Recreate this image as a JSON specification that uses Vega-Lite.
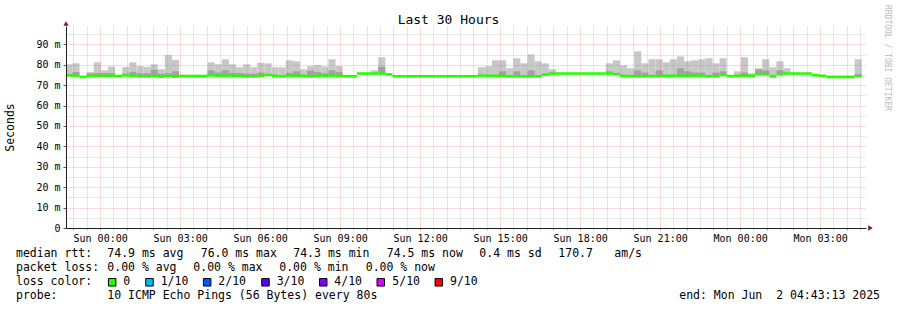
{
  "$schema": "https://vega.github.io/schema/vega-lite/v6.json",
  "autosize": {"type": "none"},
  "width": 800,
  "height": 202,
  "padding": {"left": 66, "top": 26, "right": 31, "bottom": 82},
  "background": "#ffffff",
  "view": {"stroke": null},
  "datasets": {
    "bins": [
      {"t0": "2025-05-31T22:41:40Z", "t1": "2025-05-31T22:57:40Z", "med": 74.8, "hi": 80.2, "dk": null},
      {"t0": "2025-05-31T22:57:40Z", "t1": "2025-05-31T23:13:40Z", "med": 74.6, "hi": 80.7, "dk": 76.5},
      {"t0": "2025-05-31T23:13:40Z", "t1": "2025-05-31T23:29:40Z", "med": 74.0, "hi": null, "dk": null},
      {"t0": "2025-05-31T23:29:40Z", "t1": "2025-05-31T23:45:40Z", "med": 74.6, "hi": 76.4, "dk": 75.8},
      {"t0": "2025-05-31T23:45:40Z", "t1": "2025-06-01T00:01:40Z", "med": 74.6, "hi": 81.2, "dk": 75.9},
      {"t0": "2025-06-01T00:01:40Z", "t1": "2025-06-01T00:17:40Z", "med": 74.6, "hi": 77.3, "dk": 75.9},
      {"t0": "2025-06-01T00:17:40Z", "t1": "2025-06-01T00:33:40Z", "med": 74.6, "hi": 79.1, "dk": 75.9},
      {"t0": "2025-06-01T00:33:40Z", "t1": "2025-06-01T00:49:40Z", "med": 74.5, "hi": null, "dk": null},
      {"t0": "2025-06-01T00:49:40Z", "t1": "2025-06-01T01:05:40Z", "med": 74.8, "hi": 78.9, "dk": 75.6},
      {"t0": "2025-06-01T01:05:40Z", "t1": "2025-06-01T01:21:40Z", "med": 74.6, "hi": 81.2, "dk": 76.5},
      {"t0": "2025-06-01T01:21:40Z", "t1": "2025-06-01T01:37:40Z", "med": 74.3, "hi": 79.4, "dk": 75.8},
      {"t0": "2025-06-01T01:37:40Z", "t1": "2025-06-01T01:53:40Z", "med": 74.3, "hi": 79.0, "dk": 75.8},
      {"t0": "2025-06-01T01:53:40Z", "t1": "2025-06-01T02:09:40Z", "med": 74.6, "hi": 80.2, "dk": 77.5},
      {"t0": "2025-06-01T02:09:40Z", "t1": "2025-06-01T02:25:40Z", "med": 74.2, "hi": 77.8, "dk": 75.6},
      {"t0": "2025-06-01T02:25:40Z", "t1": "2025-06-01T02:41:40Z", "med": 74.6, "hi": 84.8, "dk": 75.8},
      {"t0": "2025-06-01T02:41:40Z", "t1": "2025-06-01T02:57:40Z", "med": 74.2, "hi": 82.4, "dk": 76.8},
      {"t0": "2025-06-01T02:57:40Z", "t1": "2025-06-01T04:01:40Z", "med": 74.5, "hi": null, "dk": null},
      {"t0": "2025-06-01T04:01:40Z", "t1": "2025-06-01T04:17:40Z", "med": 74.8, "hi": 81.2, "dk": 77.3},
      {"t0": "2025-06-01T04:17:40Z", "t1": "2025-06-01T04:33:40Z", "med": 74.6, "hi": 80.2, "dk": 76.2},
      {"t0": "2025-06-01T04:33:40Z", "t1": "2025-06-01T04:49:40Z", "med": 74.6, "hi": 82.7, "dk": 77.3},
      {"t0": "2025-06-01T04:49:40Z", "t1": "2025-06-01T05:05:40Z", "med": 74.6, "hi": 80.2, "dk": 76.0},
      {"t0": "2025-06-01T05:05:40Z", "t1": "2025-06-01T05:21:40Z", "med": 74.6, "hi": 78.8, "dk": 75.9},
      {"t0": "2025-06-01T05:21:40Z", "t1": "2025-06-01T05:37:40Z", "med": 74.3, "hi": 80.2, "dk": 75.7},
      {"t0": "2025-06-01T05:37:40Z", "t1": "2025-06-01T05:53:40Z", "med": 74.3, "hi": 78.8, "dk": 75.6},
      {"t0": "2025-06-01T05:53:40Z", "t1": "2025-06-01T06:09:40Z", "med": 74.6, "hi": 81.0, "dk": 76.2},
      {"t0": "2025-06-01T06:09:40Z", "t1": "2025-06-01T06:25:40Z", "med": 75.0, "hi": 80.7, "dk": 75.6},
      {"t0": "2025-06-01T06:25:40Z", "t1": "2025-06-01T06:41:40Z", "med": 74.6, "hi": 78.8, "dk": null},
      {"t0": "2025-06-01T06:41:40Z", "t1": "2025-06-01T06:57:40Z", "med": 74.3, "hi": 78.8, "dk": null},
      {"t0": "2025-06-01T06:57:40Z", "t1": "2025-06-01T07:13:40Z", "med": 74.6, "hi": 82.2, "dk": 76.0},
      {"t0": "2025-06-01T07:13:40Z", "t1": "2025-06-01T07:29:40Z", "med": 74.6, "hi": 81.7, "dk": 76.8},
      {"t0": "2025-06-01T07:29:40Z", "t1": "2025-06-01T07:45:40Z", "med": 74.6, "hi": 77.8, "dk": null},
      {"t0": "2025-06-01T07:45:40Z", "t1": "2025-06-01T08:01:40Z", "med": 74.3, "hi": 79.3, "dk": 77.1},
      {"t0": "2025-06-01T08:01:40Z", "t1": "2025-06-01T08:17:40Z", "med": 74.6, "hi": 79.9, "dk": 76.4},
      {"t0": "2025-06-01T08:17:40Z", "t1": "2025-06-01T08:33:40Z", "med": 74.6, "hi": 79.2, "dk": 75.8},
      {"t0": "2025-06-01T08:33:40Z", "t1": "2025-06-01T08:49:40Z", "med": 74.6, "hi": 82.7, "dk": 77.3},
      {"t0": "2025-06-01T08:49:40Z", "t1": "2025-06-01T09:05:40Z", "med": 74.6, "hi": 79.4, "dk": 76.4},
      {"t0": "2025-06-01T09:05:40Z", "t1": "2025-06-01T09:37:40Z", "med": 74.4, "hi": null, "dk": null},
      {"t0": "2025-06-01T09:37:40Z", "t1": "2025-06-01T10:09:40Z", "med": 75.7, "hi": null, "dk": null},
      {"t0": "2025-06-01T10:09:40Z", "t1": "2025-06-01T10:25:40Z", "med": 75.7, "hi": 77.3, "dk": null},
      {"t0": "2025-06-01T10:25:40Z", "t1": "2025-06-01T10:41:40Z", "med": 75.7, "hi": 83.7, "dk": 79.0},
      {"t0": "2025-06-01T10:41:40Z", "t1": "2025-06-01T10:57:40Z", "med": 75.3, "hi": null, "dk": null},
      {"t0": "2025-06-01T10:57:40Z", "t1": "2025-06-01T14:09:40Z", "med": 74.4, "hi": null, "dk": null},
      {"t0": "2025-06-01T14:09:40Z", "t1": "2025-06-01T14:25:40Z", "med": 74.7, "hi": 78.8, "dk": null},
      {"t0": "2025-06-01T14:25:40Z", "t1": "2025-06-01T14:41:40Z", "med": 74.6, "hi": 79.3, "dk": null},
      {"t0": "2025-06-01T14:41:40Z", "t1": "2025-06-01T14:57:40Z", "med": 74.6, "hi": 82.2, "dk": null},
      {"t0": "2025-06-01T14:57:40Z", "t1": "2025-06-01T15:13:40Z", "med": 74.6, "hi": 82.2, "dk": 76.8},
      {"t0": "2025-06-01T15:13:40Z", "t1": "2025-06-01T15:29:40Z", "med": 74.3, "hi": 78.3, "dk": null},
      {"t0": "2025-06-01T15:29:40Z", "t1": "2025-06-01T15:45:40Z", "med": 74.3, "hi": 83.2, "dk": 76.8},
      {"t0": "2025-06-01T15:45:40Z", "t1": "2025-06-01T16:01:40Z", "med": 74.3, "hi": 80.7, "dk": null},
      {"t0": "2025-06-01T16:01:40Z", "t1": "2025-06-01T16:17:40Z", "med": 74.3, "hi": 85.1, "dk": 77.3},
      {"t0": "2025-06-01T16:17:40Z", "t1": "2025-06-01T16:33:40Z", "med": 74.3, "hi": 81.7, "dk": null},
      {"t0": "2025-06-01T16:33:40Z", "t1": "2025-06-01T16:49:40Z", "med": 75.2, "hi": 80.7, "dk": null},
      {"t0": "2025-06-01T16:49:40Z", "t1": "2025-06-01T17:05:40Z", "med": 75.7, "hi": 77.8, "dk": null},
      {"t0": "2025-06-01T17:05:40Z", "t1": "2025-06-01T18:57:40Z", "med": 75.7, "hi": null, "dk": null},
      {"t0": "2025-06-01T18:57:40Z", "t1": "2025-06-01T19:13:40Z", "med": 75.7, "hi": 80.7, "dk": 76.8},
      {"t0": "2025-06-01T19:13:40Z", "t1": "2025-06-01T19:29:40Z", "med": 75.4, "hi": 82.2, "dk": null},
      {"t0": "2025-06-01T19:29:40Z", "t1": "2025-06-01T19:45:40Z", "med": 74.6, "hi": 79.7, "dk": null},
      {"t0": "2025-06-01T19:45:40Z", "t1": "2025-06-01T20:01:40Z", "med": 74.4, "hi": 78.3, "dk": null},
      {"t0": "2025-06-01T20:01:40Z", "t1": "2025-06-01T20:17:40Z", "med": 74.3, "hi": 86.6, "dk": 77.3},
      {"t0": "2025-06-01T20:17:40Z", "t1": "2025-06-01T20:33:40Z", "med": 74.4, "hi": 80.7, "dk": 76.2},
      {"t0": "2025-06-01T20:33:40Z", "t1": "2025-06-01T20:49:40Z", "med": 74.4, "hi": 82.7, "dk": null},
      {"t0": "2025-06-01T20:49:40Z", "t1": "2025-06-01T21:05:40Z", "med": 74.4, "hi": 82.7, "dk": 77.3},
      {"t0": "2025-06-01T21:05:40Z", "t1": "2025-06-01T21:21:40Z", "med": 74.6, "hi": 81.2, "dk": null},
      {"t0": "2025-06-01T21:21:40Z", "t1": "2025-06-01T21:37:40Z", "med": 74.6, "hi": 82.7, "dk": null},
      {"t0": "2025-06-01T21:37:40Z", "t1": "2025-06-01T21:53:40Z", "med": 74.6, "hi": 84.1, "dk": 78.3},
      {"t0": "2025-06-01T21:53:40Z", "t1": "2025-06-01T22:09:40Z", "med": 74.6, "hi": 81.7, "dk": 76.8},
      {"t0": "2025-06-01T22:09:40Z", "t1": "2025-06-01T22:25:40Z", "med": 74.6, "hi": 82.2, "dk": 76.2},
      {"t0": "2025-06-01T22:25:40Z", "t1": "2025-06-01T22:41:40Z", "med": 74.6, "hi": 82.7, "dk": 76.2},
      {"t0": "2025-06-01T22:41:40Z", "t1": "2025-06-01T22:57:40Z", "med": 74.3, "hi": 83.2, "dk": null},
      {"t0": "2025-06-01T22:57:40Z", "t1": "2025-06-01T23:13:40Z", "med": 74.3, "hi": 80.7, "dk": 76.2},
      {"t0": "2025-06-01T23:13:40Z", "t1": "2025-06-01T23:29:40Z", "med": 75.0, "hi": 83.2, "dk": 76.8},
      {"t0": "2025-06-01T23:29:40Z", "t1": "2025-06-01T23:45:40Z", "med": 74.4, "hi": null, "dk": null},
      {"t0": "2025-06-01T23:45:40Z", "t1": "2025-06-02T00:01:40Z", "med": 74.6, "hi": 76.8, "dk": null},
      {"t0": "2025-06-02T00:01:40Z", "t1": "2025-06-02T00:17:40Z", "med": 74.6, "hi": 83.7, "dk": 76.2},
      {"t0": "2025-06-02T00:17:40Z", "t1": "2025-06-02T00:33:40Z", "med": 74.6, "hi": 75.8, "dk": null},
      {"t0": "2025-06-02T00:33:40Z", "t1": "2025-06-02T00:49:40Z", "med": 75.4, "hi": 78.3, "dk": 77.8},
      {"t0": "2025-06-02T00:49:40Z", "t1": "2025-06-02T01:05:40Z", "med": 75.4, "hi": 82.7, "dk": 77.3},
      {"t0": "2025-06-02T01:05:40Z", "t1": "2025-06-02T01:21:40Z", "med": 74.3, "hi": 78.8, "dk": null},
      {"t0": "2025-06-02T01:21:40Z", "t1": "2025-06-02T01:37:40Z", "med": 75.4, "hi": 81.7, "dk": 77.3},
      {"t0": "2025-06-02T01:37:40Z", "t1": "2025-06-02T01:53:40Z", "med": 75.7, "hi": 78.3, "dk": null},
      {"t0": "2025-06-02T01:53:40Z", "t1": "2025-06-02T02:41:40Z", "med": 75.7, "hi": null, "dk": null},
      {"t0": "2025-06-02T02:41:40Z", "t1": "2025-06-02T02:57:40Z", "med": 74.9, "hi": null, "dk": null},
      {"t0": "2025-06-02T02:57:40Z", "t1": "2025-06-02T03:13:40Z", "med": 74.6, "hi": null, "dk": null},
      {"t0": "2025-06-02T03:13:40Z", "t1": "2025-06-02T04:17:40Z", "med": 74.0, "hi": null, "dk": null},
      {"t0": "2025-06-02T04:17:40Z", "t1": "2025-06-02T04:33:40Z", "med": 74.4, "hi": 82.7, "dk": 75.3}
    ],
    "arrowUp": [{"t": "2025-05-31T22:43:13Z", "v": 100.2}],
    "arrowRight": [{"t": "2025-06-02T04:53:20Z", "v": 0}],
    "legendText": [
      {"row": 0, "col": 0, "text": "median rtt:"},
      {"row": 0, "col": 13.04, "text": "74.9 ms avg"},
      {"row": 0, "col": 26.39, "text": "76.0 ms max"},
      {"row": 0, "col": 39.61, "text": "74.3 ms min"},
      {"row": 0, "col": 52.96, "text": "74.5 ms now"},
      {"row": 0, "col": 66.19, "text": "0.4 ms sd"},
      {"row": 0, "col": 77.47, "text": "170.7"},
      {"row": 0, "col": 85.47, "text": "am/s"},
      {"row": 1, "col": 0, "text": "packet loss:"},
      {"row": 1, "col": 13.04, "text": "0.00 % avg"},
      {"row": 1, "col": 25.33, "text": "0.00 % max"},
      {"row": 1, "col": 37.61, "text": "0.00 % min"},
      {"row": 1, "col": 49.96, "text": "0.00 % now"},
      {"row": 2, "col": 0, "text": "loss color:"},
      {"row": 2, "col": 15.33, "text": "0"},
      {"row": 2, "col": 20.67, "text": "1/10"},
      {"row": 2, "col": 28.9, "text": "2/10"},
      {"row": 2, "col": 37.24, "text": "3/10"},
      {"row": 2, "col": 45.47, "text": "4/10"},
      {"row": 2, "col": 53.76, "text": "5/10"},
      {"row": 2, "col": 62.0, "text": "9/10"},
      {"row": 3, "col": 0, "text": "probe:"},
      {"row": 3, "col": 13.04, "text": "10 ICMP Echo Pings (56 Bytes) every 80s"}
    ],
    "legendEnd": [{"row": 3, "col": 123.43, "text": "end: Mon Jun\u00a0 2 04:43:13 2025"}],
    "titleText": [{"row": -16.75, "col": 61.786, "text": "Last 30 Hours"}],
    "lossColors": [
      {"row": 2, "col": 13.74, "loss": "0"},
      {"row": 2, "col": 19.07, "loss": "1/10"},
      {"row": 2, "col": 27.31, "loss": "2/10"},
      {"row": 2, "col": 35.64, "loss": "3/10"},
      {"row": 2, "col": 43.89, "loss": "4/10"},
      {"row": 2, "col": 52.11, "loss": "5/10"},
      {"row": 2, "col": 60.4, "loss": "9/10"}
    ],
    "watermark": [{"row": -17.81, "col": 124.43, "text": "RRDTOOL / TOBI OETIKER"}]
  },
  "layer": [
    {
      "data": {"name": "bins"},
      "mark": {"type": "rect", "color": "#c8c8c8", "clip": true},
      "encoding": {
        "x": {
          "field": "t0", "type": "temporal",
          "scale": {"type": "utc", "domain": [1748731393000, 1748839393000], "nice": false},
          "axis": {
            "title": null,
            "values": [1748732400000, 1748734200000, 1748736000000, 1748737800000, 1748739600000, 1748741400000, 1748743200000, 1748745000000, 1748746800000, 1748748600000, 1748750400000, 1748752200000, 1748754000000, 1748755800000, 1748757600000, 1748759400000, 1748761200000, 1748763000000, 1748764800000, 1748766600000, 1748768400000, 1748770200000, 1748772000000, 1748773800000, 1748775600000, 1748777400000, 1748779200000, 1748781000000, 1748782800000, 1748784600000, 1748786400000, 1748788200000, 1748790000000, 1748791800000, 1748793600000, 1748795400000, 1748797200000, 1748799000000, 1748800800000, 1748802600000, 1748804400000, 1748806200000, 1748808000000, 1748809800000, 1748811600000, 1748813400000, 1748815200000, 1748817000000, 1748818800000, 1748820600000, 1748822400000, 1748824200000, 1748826000000, 1748827800000, 1748829600000, 1748831400000, 1748833200000, 1748835000000, 1748836800000, 1748838600000],
            "labelExpr": "utcminutes(datum.value) == 0 && utchours(datum.value) % 3 == 0 ? utcFormat(datum.value, '%a %H:%M') : ''",
            "labelOverlap": false, "labelFlush": false, "labelBound": false,
            "labelFont": "DejaVu Sans Mono", "labelFontSize": 10, "labelColor": "#000000",
            "labelPadding": 3,
            "grid": true,
            "gridColor": {"condition": {"test": "utcminutes(datum.value) == 0", "value": "rgba(235,90,90,0.45)"}, "value": "rgba(150,150,150,0.45)"},
            "gridDash": [1, 1],
            "gridWidth": 1,
            "tickSize": 2,
            "tickColor": {"condition": {"test": "utcminutes(datum.value) == 0", "value": "rgba(222,79,79,0.7)"}, "value": "rgba(150,150,150,0.6)"},
            "domainColor": "#1f1f1f",
            "zindex": 1
          }
        },
        "x2": {"field": "t1"},
        "y": {
          "field": "med", "type": "quantitative",
          "scale": {"domain": [0, 99], "nice": false},
          "axis": {
            "title": "Seconds",
            "values": [0, 5, 10, 15, 20, 25, 30, 35, 40, 45, 50, 55, 60, 65, 70, 75, 80, 85, 90, 95],
            "labelExpr": "datum.value % 10 == 0 ? (datum.value == 0 ? '0' : datum.value + ' m') : ''",
            "labelFont": "DejaVu Sans Mono", "labelFontSize": 10, "labelColor": "#000000",
            "labelPadding": 3,
            "labelOverlap": false, "labelBound": false, "labelFlush": false,
            "grid": true,
            "gridColor": {"condition": {"test": "datum.value % 10 == 0", "value": "rgba(235,90,90,0.45)"}, "value": "rgba(150,150,150,0.45)"},
            "gridDash": [1, 1],
            "gridWidth": 1,
            "tickSize": 3,
            "tickColor": {"condition": {"test": "datum.value % 10 == 0", "value": "#555555"}, "value": "rgba(255,255,255,0)"},
            "domainColor": "#1f1f1f",
            "titleFont": "DejaVu Sans Mono", "titleFontSize": 11.5, "titleFontWeight": "normal", "titleColor": "#000000",
            "titleX": -56, "titleY": 101, "titleAngle": -90, "titleAlign": "center", "titleBaseline": "middle",
            "zindex": 1
          }
        },
        "y2": {"field": "hi"}
      }
    },
    {
      "data": {"name": "bins"},
      "mark": {"type": "rect", "color": "#a2a2a2", "clip": true},
      "encoding": {
        "x": {"field": "t0", "type": "temporal", "scale": {"type": "utc", "domain": [1748731393000, 1748839393000], "nice": false}, "axis": null},
        "x2": {"field": "t1"},
        "y": {"field": "med", "type": "quantitative", "scale": {"domain": [0, 99], "nice": false}, "axis": null},
        "y2": {"field": "dk"}
      }
    },
    {
      "data": {"name": "bins"},
      "mark": {"type": "rule", "color": "#26ff00", "strokeWidth": 2.6, "strokeCap": "butt", "clip": true},
      "encoding": {
        "x": {"field": "t0", "type": "temporal", "scale": {"type": "utc", "domain": [1748731393000, 1748839393000], "nice": false}, "axis": null},
        "x2": {"field": "t1"},
        "y": {"field": "med", "type": "quantitative", "scale": {"domain": [0, 99], "nice": false}, "axis": null}
      }
    },
    {
      "data": {"name": "arrowUp"},
      "mark": {"type": "point", "shape": "triangle-up", "filled": true, "size": 28, "color": "#801f1f", "opacity": 1},
      "encoding": {
        "x": {"field": "t", "type": "temporal", "scale": {"type": "utc", "domain": [1748731393000, 1748839393000], "nice": false}, "axis": null},
        "y": {"field": "v", "type": "quantitative", "scale": {"domain": [0, 99], "nice": false}, "axis": null}
      }
    },
    {
      "data": {"name": "arrowRight"},
      "mark": {"type": "point", "shape": "triangle-right", "filled": true, "size": 28, "color": "#801f1f", "opacity": 1},
      "encoding": {
        "x": {"field": "t", "type": "temporal", "scale": {"type": "utc", "domain": [1748731393000, 1748839393000], "nice": false}, "axis": null},
        "y": {"field": "v", "type": "quantitative", "scale": {"domain": [0, 99], "nice": false}, "axis": null}
      }
    },
    {
      "data": {"name": "legendText"},
      "mark": {"type": "text", "align": "left", "baseline": "middle", "font": "DejaVu Sans Mono", "fontSize": 11.5, "color": "#000000"},
      "encoding": {
        "x": {"field": "col", "type": "quantitative", "scale": {"domain": [7.142857, 121.428571], "zero": false, "nice": false}, "axis": null},
        "y": {"field": "row", "type": "quantitative", "scale": {"domain": [-16.3071, -1.8786], "zero": false, "nice": false, "reverse": true}, "axis": null},
        "text": {"field": "text"}
      }
    },
    {
      "data": {"name": "legendEnd"},
      "mark": {"type": "text", "align": "right", "baseline": "middle", "font": "DejaVu Sans Mono", "fontSize": 11.5, "color": "#000000"},
      "encoding": {
        "x": {"field": "col", "type": "quantitative", "scale": {"domain": [7.142857, 121.428571], "zero": false, "nice": false}, "axis": null},
        "y": {"field": "row", "type": "quantitative", "scale": {"domain": [-16.3071, -1.8786], "zero": false, "nice": false, "reverse": true}, "axis": null},
        "text": {"field": "text"}
      }
    },
    {
      "data": {"name": "titleText"},
      "mark": {"type": "text", "align": "center", "baseline": "middle", "font": "DejaVu Sans Mono", "fontSize": 13, "color": "#000000"},
      "encoding": {
        "x": {"field": "col", "type": "quantitative", "scale": {"domain": [7.142857, 121.428571], "zero": false, "nice": false}, "axis": null},
        "y": {"field": "row", "type": "quantitative", "scale": {"domain": [-16.3071, -1.8786], "zero": false, "nice": false, "reverse": true}, "axis": null},
        "text": {"field": "text"}
      }
    },
    {
      "data": {"name": "lossColors"},
      "mark": {"type": "point", "shape": "square", "filled": true, "size": 56, "stroke": "#000000", "strokeWidth": 1, "opacity": 1},
      "encoding": {
        "x": {"field": "col", "type": "quantitative", "scale": {"domain": [7.142857, 121.428571], "zero": false, "nice": false}, "axis": null},
        "y": {"field": "row", "type": "quantitative", "scale": {"domain": [-16.3071, -1.8786], "zero": false, "nice": false, "reverse": true}, "axis": null},
        "color": {"field": "loss", "type": "nominal", "legend": null,
          "scale": {"domain": ["0", "1/10", "2/10", "3/10", "4/10", "5/10", "9/10"], "range": ["#26ff00", "#00b8ff", "#0059ff", "#5e00ff", "#7e00ff", "#dd00ff", "#ff0000"]}}
      }
    },
    {
      "data": {"name": "watermark"},
      "mark": {"type": "text", "angle": 90, "align": "left", "baseline": "middle", "font": "DejaVu Sans Mono", "fontSize": 8, "color": "#bbbbbb"},
      "encoding": {
        "x": {"field": "col", "type": "quantitative", "scale": {"domain": [7.142857, 121.428571], "zero": false, "nice": false}, "axis": null},
        "y": {"field": "row", "type": "quantitative", "scale": {"domain": [-16.3071, -1.8786], "zero": false, "nice": false, "reverse": true}, "axis": null},
        "text": {"field": "text"}
      }
    }
  ],
  "resolve": {"scale": {"x": "independent", "y": "independent"}}
}
